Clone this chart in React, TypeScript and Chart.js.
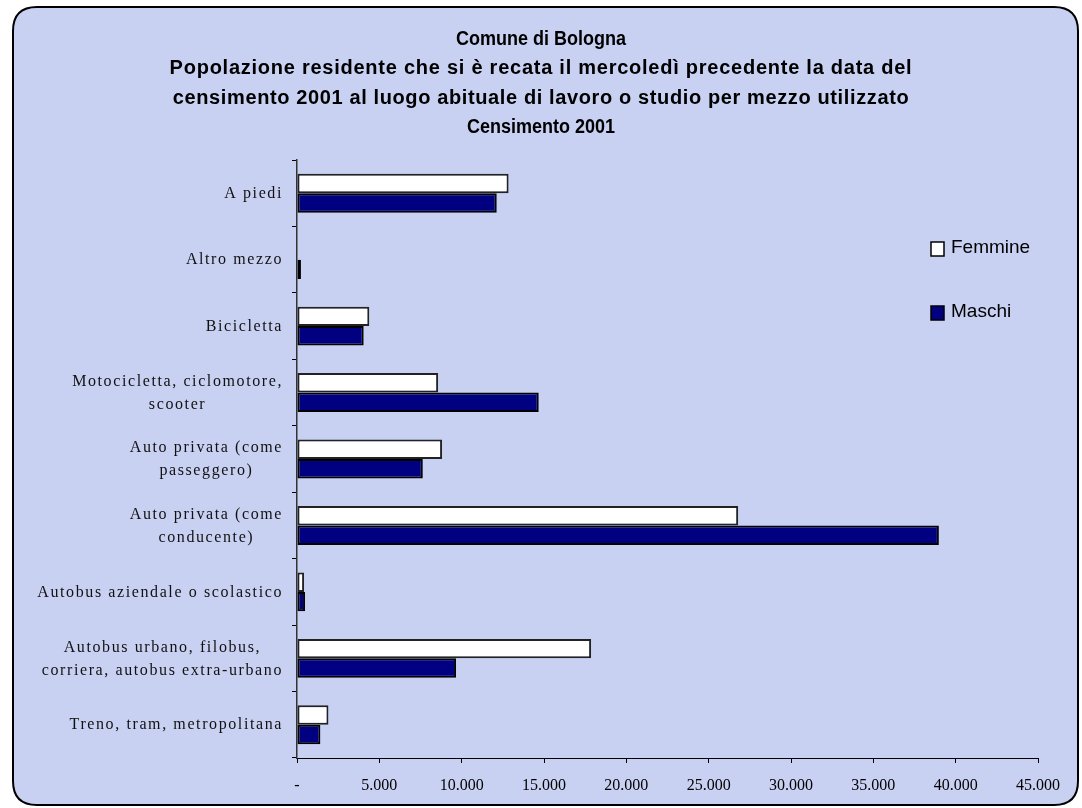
import React, { useEffect, useRef } from 'react';
import { Chart, registerables } from 'chart.js';

Chart.register(...registerables);

const W = 1082;
const H = 808;

const categories: string[][] = [
  ['A piedi'],
  ['Altro mezzo'],
  ['Bicicletta'],
  ['Motocicletta, ciclomotore,', 'scooter'],
  ['Auto privata (come', 'passeggero)'],
  ['Auto privata (come', 'conducente)'],
  ['Autobus aziendale o scolastico'],
  ['Autobus urbano, filobus,', 'corriera, autobus extra-urbano'],
  ['Treno, tram, metropolitana'],
];

const femmine = [12850, 0, 4390, 8570, 8810, 26790, 430, 17860, 1910];
const maschi = [12130, 240, 4050, 14680, 7640, 38980, 490, 9660, 1420];

const seriesNames = ['Femmine', 'Maschi'];

const titleLines = [
  'Comune di Bologna',
  'Popolazione residente che si è recata il mercoledì precedente la data del',
  'censimento 2001 al luogo abituale di lavoro o studio per mezzo utilizzato',
  'Censimento 2001',
];

const xMin = 0;
const xMax = 45000;
const xStep = 5000;

function fmtTick(v: number): string {
  if (v === 0) return '-';
  return String(Math.round(v)).replace(/\B(?=(\d{3})+(?!\d))/g, '.');
}

function roundRectPath(ctx: CanvasRenderingContext2D, x: number, y: number, w: number, h: number, r: number) {
  ctx.beginPath();
  ctx.moveTo(x + r, y);
  ctx.lineTo(x + w - r, y);
  ctx.quadraticCurveTo(x + w, y, x + w, y + r);
  ctx.lineTo(x + w, y + h - r);
  ctx.quadraticCurveTo(x + w, y + h, x + w - r, y + h);
  ctx.lineTo(x + r, y + h);
  ctx.quadraticCurveTo(x, y + h, x, y + h - r);
  ctx.lineTo(x, y + r);
  ctx.quadraticCurveTo(x, y, x + r, y);
  ctx.closePath();
}

const decorPlugin = {
  id: 'decor',
  beforeDraw(chart: any) {
    const ctx: CanvasRenderingContext2D = chart.ctx;
    ctx.save();
    ctx.fillStyle = '#ffffff';
    ctx.fillRect(0, 0, W, H);
    roundRectPath(ctx, 13, 7, 1065, 798, 24);
    ctx.fillStyle = '#c8d1f2';
    ctx.fill();
    ctx.lineWidth = 2;
    ctx.strokeStyle = '#000000';
    ctx.stroke();
    ctx.restore();
  },
  afterDraw(chart: any) {
    const ctx: CanvasRenderingContext2D = chart.ctx;
    ctx.save();
    // title
    ctx.fillStyle = '#000000';
    ctx.font = 'bold 20px "Liberation Sans", Arial, sans-serif';
    ctx.textAlign = 'center';
    ctx.textBaseline = 'middle';
    const ty = [39, 68.5, 98, 127.5];
    const tScale = [0.9, 1, 1, 0.9];
    const tSpacing = ['0px', '0.75px', '0.62px', '0px'];
    titleLines.forEach((t, i) => {
      ctx.save();
      ctx.translate(541, ty[i]);
      ctx.scale(tScale[i], 1);
      (ctx as any).letterSpacing = tSpacing[i];
      ctx.fillText(t, 0, 0);
      ctx.restore();
    });

    // y category labels
    const yScale = chart.scales.y;
    ctx.font = '16px "Liberation Serif", "Times New Roman", serif';
    (ctx as any).letterSpacing = '1.6px';
    ctx.fillStyle = '#111111';
    ctx.textAlign = 'center';
    ctx.textBaseline = 'middle';
    const right = 283;
    const lineH = 23;
    categories.forEach((lines, i) => {
      const cy = yScale.getPixelForValue(i);
      let maxW = 0;
      lines.forEach((l) => {
        maxW = Math.max(maxW, ctx.measureText(l).width);
      });
      const cx = right - maxW / 2;
      const y0 = cy + 0.5 - ((lines.length - 1) * lineH) / 2;
      lines.forEach((l, k) => ctx.fillText(l, cx, y0 + k * lineH));
    });
    (ctx as any).letterSpacing = '0px';

    // legend
    ctx.font = '19px "Liberation Sans", Arial, sans-serif';
    ctx.textAlign = 'left';
    const ly = [249, 313];
    chart.data.datasets.forEach((ds: any, i: number) => {
      ctx.fillStyle = ds.backgroundColor;
      ctx.fillRect(931, ly[i] - 7, 13, 14);
      ctx.strokeStyle = '#000000';
      ctx.lineWidth = 1.5;
      ctx.strokeRect(931, ly[i] - 7, 13, 14);
      ctx.fillStyle = '#000000';
      ctx.fillText(ds.label, 951, ly[i] - 1);
    });
    ctx.restore();
  },
};

export default function App() {
  const ref = useRef<HTMLCanvasElement | null>(null);
  useEffect(() => {
    if (!ref.current) return;
    const chart = new Chart(ref.current, {
      type: 'bar',
      data: {
        labels: categories.map((c) => c.join(' ')),
        datasets: [
          {
            label: seriesNames[0],
            data: femmine,
            backgroundColor: '#ffffff',
            borderColor: '#222222',
            borderWidth: 2,
            borderSkipped: false,
            categoryPercentage: 0.585,
            barPercentage: 1,
          },
          {
            label: seriesNames[1],
            data: maschi,
            backgroundColor: '#000080',
            borderColor: '#000000',
            borderWidth: 2,
            borderSkipped: false,
            categoryPercentage: 0.585,
            barPercentage: 1,
          },
        ],
      },
      options: {
        indexAxis: 'y',
        responsive: false,
        animation: false,
        devicePixelRatio: 1,
        layout: { padding: { left: 0, top: 160, right: 44, bottom: 0 } },
        plugins: {
          legend: { display: false },
          title: { display: false },
          tooltip: { enabled: false },
        },
        scales: {
          x: {
            type: 'linear',
            min: xMin,
            max: xMax,
            ticks: {
              stepSize: xStep,
              callback: (v: any) => fmtTick(Number(v)),
              font: { family: '"Liberation Serif", "Times New Roman", serif', size: 16 },
              color: '#000000',
              padding: 13,
              maxRotation: 0,
              autoSkip: false,
            },
            grid: { drawOnChartArea: false, drawTicks: true, tickLength: 5, color: '#000000', lineWidth: 1 },
            border: { display: true, color: '#000000', width: 1 },
            afterFit: (s: any) => {
              s.height = 50;
            },
          },
          y: {
            type: 'category',
            ticks: { display: false },
            grid: { drawOnChartArea: false, drawTicks: true, tickLength: 5, color: '#000000', lineWidth: 1, offset: true },
            border: { display: true, color: '#333333', width: 1.5 },
            afterFit: (s: any) => {
              s.width = 297;
            },
          },
        },
      },
      plugins: [decorPlugin],
    } as any);
    return () => chart.destroy();
  }, []);
  return (
    <div style={{ position: 'absolute', left: 0, top: 0, width: W, height: H }}>
      <canvas ref={ref} width={W} height={H} style={{ display: 'block', width: W, height: H }} />
    </div>
  );
}
